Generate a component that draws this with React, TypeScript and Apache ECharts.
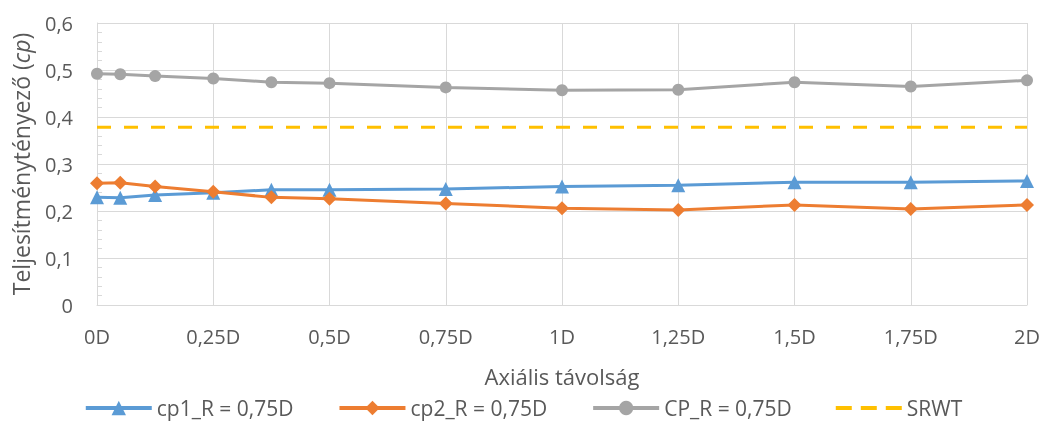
import React, { useEffect, useRef } from "react";
import * as echarts from "echarts";

const xPositions = [0, 0.05, 0.125, 0.25, 0.375, 0.5, 0.75, 1, 1.25, 1.5, 1.75, 2];
const cp1 = [0.229, 0.228, 0.234, 0.239, 0.245, 0.245, 0.247, 0.252, 0.255, 0.261, 0.261, 0.264];
const cp2 = [0.259, 0.26, 0.252, 0.241, 0.229, 0.226, 0.216, 0.206, 0.202, 0.213, 0.204, 0.213];
const cpTotal = [0.492, 0.491, 0.487, 0.482, 0.474, 0.472, 0.463, 0.457, 0.458, 0.474, 0.465, 0.478];
const srwtX = [0, 2];
const srwtY = [0.378, 0.378];
const seriesNames = ["cp1_R = 0,75D", "cp2_R = 0,75D", "CP_R = 0,75D", "SRWT"];

const FONT = "'Open Sans', sans-serif";
const TXT = "#595959";
const GRID = "#D9D9D9";
const DASH_ICON =
  "path://M0,0h0.01v0.01h-0.01z M0,7h16v4h-16z M25,7h16v4h-16z M50,7h16v4h-16z M65.99,17.99h0.01v0.01h-0.01z";

export default function App() {
  const ref = useRef<HTMLDivElement>(null);
  useEffect(() => {
    if (!ref.current) return;
    const chart = echarts.init(ref.current, undefined, { renderer: "svg" });
    const pair = (ys: number[]) => xPositions.map((x, i) => [x, ys[i]]);
    chart.setOption({
      animation: false,
      textStyle: { fontFamily: FONT },
      grid: { left: 97, right: 19, top: 23, bottom: 118 },
      xAxis: {
        type: "value",
        min: 0,
        max: 2,
        interval: 0.25,
        axisLine: { show: true, lineStyle: { color: GRID, width: 1 } },
        axisTick: { show: false },
        splitLine: { show: true, lineStyle: { color: GRID, width: 1 } },
        axisLabel: {
          color: TXT,
          fontSize: 20,
          fontFamily: FONT,
          margin: 21,
          formatter: (v: number) => String(v).replace(".", ",") + "D",
        },
        name: "Axiális távolság",
        nameLocation: "middle",
        nameGap: 60,
        nameTextStyle: { color: TXT, fontSize: 22, fontFamily: FONT },
      },
      yAxis: {
        type: "value",
        min: 0,
        max: 0.6,
        interval: 0.1,
        axisLine: { show: true, lineStyle: { color: GRID, width: 1 } },
        axisTick: { show: false, inside: true },
        minorTick: { show: true, splitNumber: 5, length: 5, lineStyle: { color: GRID } },
        splitLine: { show: true, lineStyle: { color: GRID, width: 1 } },
        axisLabel: {
          color: TXT,
          fontSize: 20,
          fontFamily: FONT,
          margin: 24,
          formatter: (v: number) => String(Math.round(v * 10) / 10).replace(".", ","),
        },
        name: "Teljesítménytényező ({i|cp})",
        nameLocation: "middle",
        nameGap: 65,
        nameTextStyle: {
          color: TXT,
          fontSize: 23,
          fontFamily: FONT,
          rich: { i: { fontStyle: "italic", color: TXT, fontSize: 23, fontFamily: FONT } },
        },
      },
      legend: {
        top: 397,
        padding: 0,
        left: "center",
        itemWidth: 66,
        itemHeight: 18,
        itemGap: 44,
        lineStyle: { width: 4 },
        textStyle: { color: TXT, fontSize: 21, lineHeight: 22, fontFamily: FONT },
        data: [
          seriesNames[0],
          seriesNames[1],
          seriesNames[2],
          { name: seriesNames[3], icon: DASH_ICON },
        ],
      },
      series: [
        {
          name: seriesNames[0],
          type: "line",
          data: pair(cp1),
          symbol: "triangle",
          symbolSize: 14,
          itemStyle: { color: "#5B9BD5" },
          lineStyle: { color: "#5B9BD5", width: 3 },
          z: 3,
        },
        {
          name: seriesNames[1],
          type: "line",
          data: pair(cp2),
          symbol: "diamond",
          symbolSize: 14,
          itemStyle: { color: "#ED7D31" },
          lineStyle: { color: "#ED7D31", width: 3 },
          z: 4,
        },
        {
          name: seriesNames[2],
          type: "line",
          data: pair(cpTotal),
          symbol: "circle",
          symbolSize: 12,
          itemStyle: { color: "#A5A5A5" },
          lineStyle: { color: "#A5A5A5", width: 3 },
        },
        {
          name: seriesNames[3],
          type: "line",
          data: srwtX.map((x, i) => [x, srwtY[i]]),
          symbol: "none",
          itemStyle: { color: "#FFC000" },
          lineStyle: { color: "#FFC000", width: 3, type: [14, 13] },
        },
      ],
    });
    return () => chart.dispose();
  }, []);
  return (
    <div
      ref={ref}
      style={{ position: "fixed", left: 0, top: 0, width: 1046, height: 423 }}
    />
  );
}
